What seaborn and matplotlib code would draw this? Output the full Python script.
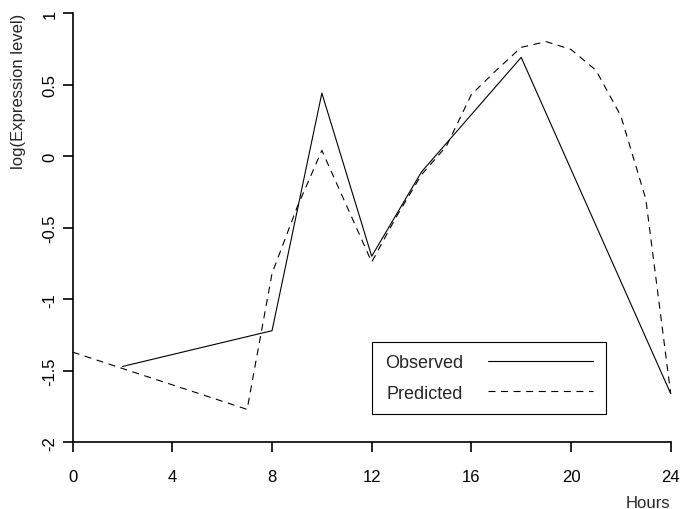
import numpy as np
import pandas as pd
import seaborn as sns
import matplotlib.pyplot as plt

# --- Data ---
obs_hours = [2, 8, 10, 12, 14, 18, 24]
obs_level = [-1.47, -1.22, 0.44, -0.70, -0.11, 0.69, -1.66]

pred_hours = [0, 7, 8, 9, 10, 11, 12, 13, 14, 15, 16, 17, 18, 19, 20, 21, 22, 23, 24]
pred_level = [-1.37, -1.77, -0.82, -0.36, 0.04, -0.35, -0.74, -0.42, -0.13, 0.07,
              0.43, 0.60, 0.76, 0.80, 0.745, 0.60, 0.28, -0.30, -1.66]

x_ticks = [0, 4, 8, 12, 16, 20, 24]
y_ticks = [-2, -1.5, -1, -0.5, 0, 0.5, 1]
y_tick_labels = ['-2', '-1.5', '-1', '-0.5', '0', '0.5', '1']
series_names = ['Observed', 'Predicted']

df = pd.concat([
    pd.DataFrame({'Hours': obs_hours, 'level': obs_level, 'series': 'Observed'}),
    pd.DataFrame({'Hours': pred_hours, 'level': pred_level, 'series': 'Predicted'}),
], ignore_index=True)

# --- Style ---
sns.set_style('ticks')
plt.rcParams['font.family'] = ['Liberation Sans', 'DejaVu Sans']

W, H = 682, 510
fig = plt.figure(figsize=(W / 100, H / 100), dpi=100)
ax = fig.add_axes([72.7 / W, 1 - 443.3 / H, (670.7 - 72.7) / W, (443.3 - 14) / H])

sns.lineplot(data=df, x='Hours', y='level', style='series', style_order=series_names,
             dashes={'Observed': '', 'Predicted': (6.3, 5.0)}, color='black',
             linewidth=0.8, estimator=None, legend=False, ax=ax)
for line in ax.lines:
    line.set_clip_on(False)

ax.set_xlim(0, 24)
ax.set_ylim(-2, 1)
ax.set_xticks(x_ticks)
ax.set_xticklabels([str(t) for t in x_ticks])
ax.set_yticks(y_ticks)
ax.set_yticklabels(y_tick_labels, rotation=90, va='center')

for side in ['top', 'right']:
    ax.spines[side].set_visible(False)
for side in ['left', 'bottom']:
    ax.spines[side].set_linewidth(1.2)
    ax.spines[side].set_color('black')

ax.tick_params(direction='out', length=7, width=1.2, colors='black', labelsize=12)
ax.tick_params(axis='x', pad=12)
ax.tick_params(axis='y', pad=4)

ax.set_xlabel('Hours', loc='right', fontsize=12, labelpad=8)
ax.set_ylabel('log(Expression level)', loc='top', fontsize=12, labelpad=12)

# --- Legend (R-style: label first, line sample after) ---
leg = ax.legend(ax.lines[:2], series_names, loc='upper left',
                bbox_to_anchor=(372.3 / W, 1 - 342.7 / H), bbox_transform=fig.transFigure,
                markerfirst=False, fontsize=13, handlelength=5.8, handletextpad=1.4,
                borderpad=0.7, labelspacing=0.73, fancybox=False, framealpha=1,
                edgecolor='black', borderaxespad=0)
leg.get_frame().set_linewidth(0.8)

fig.savefig('out.png', dpi=100)
